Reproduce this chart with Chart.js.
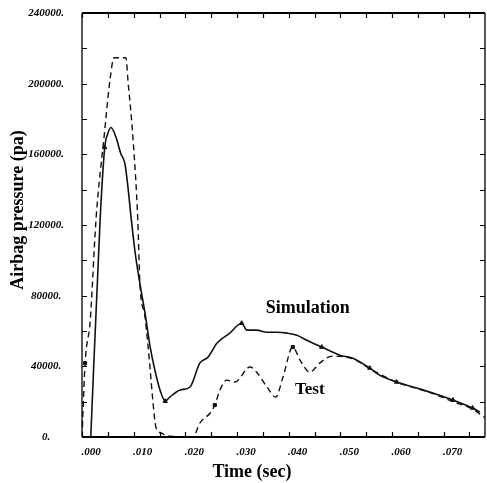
<!DOCTYPE html>
<html>
<head>
<meta charset="utf-8">
<script src="https://cdn.jsdelivr.net/npm/chart.js@4.4.1/dist/chart.umd.min.js"></script>
<style>
	html, body { margin: 0; padding: 0; background: #fff; }
	#wrap { width: 487px; height: 483px; }
</style>
</head>
<body>
<div id="wrap"><canvas id="airbag-chart" width="487" height="483"></canvas></div>
<script>
// values (time in s, pressure in Pa)
const simTime = [0.0017, 0.0035, 0.0044, 0.0050, 0.0056, 0.0066, 0.0075, 0.0083, 0.0089, 0.0095, 0.0103, 0.0112, 0.0122, 0.0132, 0.0141, 0.0151, 0.0161, 0.0170, 0.0190, 0.0209, 0.0228, 0.0244, 0.0261, 0.0286, 0.0309, 0.0319, 0.0338, 0.0358, 0.0377, 0.0397, 0.0416, 0.0435, 0.0464, 0.0499, 0.0524, 0.0557, 0.0576, 0.0609, 0.0648, 0.0679, 0.0718, 0.0756, 0.0770];
const simPressure = [0, 122600, 163900, 171800, 175200, 169500, 160500, 154800, 141300, 124300, 104000, 87000, 70100, 50900, 37900, 26600, 20300, 22600, 26600, 28300, 41800, 45200, 53100, 58800, 64400, 60500, 60500, 59300, 59300, 58800, 57600, 54800, 50900, 46300, 44600, 39000, 35000, 31100, 27700, 24900, 20900, 16400, 14100];
const simMarks = [2, 16, 24, 32, 35, 37, 40, 41];

const testTime = [0, 0.0006, 0.0016, 0.0027, 0.0044, 0.0054, 0.0062, 0.0085, 0.0089, 0.0099, 0.0108, 0.0112, 0.0122, 0.0132, 0.0137, 0.0143, 0.0153, 0.0170, 0.0215, 0.0228, 0.0248, 0.0257, 0.0267, 0.0280, 0.0296, 0.0325, 0.0338, 0.0358, 0.0375, 0.0389, 0.0408, 0.0422, 0.0441, 0.0460, 0.0484, 0.0524, 0.0557, 0.0609, 0.0648, 0.0679, 0.0718, 0.0756, 0.0781];
const testPressure = [0, 41800, 66100, 122600, 173500, 201700, 214700, 214700, 201700, 167800, 122600, 87000, 67800, 37900, 20900, 5650, 2300, 500, 0, 7900, 13600, 18100, 26600, 32200, 31100, 39600, 36700, 28300, 22600, 33900, 50900, 43500, 36700, 41800, 45800, 44300, 38700, 31000, 27500, 24600, 20000, 15800, 10700];
const testMarks = [1, 21, 30];

const xTitle = 'Time (sec)';
const yTitle = 'Airbag pressure (pa)';
const notes = [
	{ text: 'Simulation', t: 0.0437, p: 72900, size: 18 },
	{ text: 'Test', t: 0.0441, p: 26600, size: 17 },
];

const serif = '"Liberation Serif", "DejaVu Serif", serif';

function toPoints(xs, ys) {
	return xs.map((x, i) => ({ x: x, y: ys[i] }));
}

// box, inward ticks, titles and curve labels
const frame = {
	id: 'frame',
	afterDraw(chart) {
		const { ctx, chartArea: a, scales: { x, y } } = chart;
		ctx.save();
		ctx.strokeStyle = '#000';
		ctx.lineWidth = 2;
		ctx.beginPath();
		ctx.moveTo(a.left, a.bottom); ctx.lineTo(a.right, a.bottom);
		ctx.moveTo(a.left, a.top); ctx.lineTo(a.right, a.top);
		ctx.stroke();
		ctx.lineWidth = 1.3;
		ctx.beginPath();
		ctx.moveTo(a.left, a.top); ctx.lineTo(a.left, a.bottom);
		ctx.moveTo(a.right, a.top); ctx.lineTo(a.right, a.bottom);
		ctx.stroke();

		ctx.lineWidth = 1.2;
		ctx.beginPath();
		x.ticks.forEach(t => {
			const px = Math.round(x.getPixelForValue(t.value)) + 0.5;
			ctx.moveTo(px, a.bottom); ctx.lineTo(px, a.bottom - 5);
			ctx.moveTo(px, a.top); ctx.lineTo(px, a.top + 5);
		});
		y.ticks.forEach(t => {
			const py = Math.round(y.getPixelForValue(t.value)) + 0.5;
			ctx.moveTo(a.left, py); ctx.lineTo(a.left + 5, py);
			ctx.moveTo(a.right, py); ctx.lineTo(a.right - 5, py);
		});
		ctx.stroke();

		ctx.fillStyle = '#000';
		ctx.textAlign = 'center';
		ctx.textBaseline = 'middle';
		ctx.font = 'bold 18px ' + serif;
		ctx.fillText(xTitle, 252, 472);
		ctx.save();
		ctx.translate(18, 210);
		ctx.rotate(-Math.PI / 2);
		ctx.fillText(yTitle, 0, 0);
		ctx.restore();

		notes.forEach(n => {
			ctx.font = 'bold ' + n.size + 'px ' + serif;
			ctx.fillText(n.text, x.getPixelForValue(n.t), y.getPixelForValue(n.p));
		});
		ctx.restore();
	},
};

const ctx = document.getElementById('airbag-chart').getContext('2d');

new Chart(ctx, {
	type: 'line',
	data: {
		datasets: [
			{
				label: 'Simulation',
				data: toPoints(simTime, simPressure),
				borderColor: '#111',
				borderWidth: 1.6,
				cubicInterpolationMode: 'monotone',
				pointStyle: 'triangle',
				pointRadius: c => (simMarks.includes(c.dataIndex) ? 2.5 : 0),
				pointBackgroundColor: '#111',
				pointBorderColor: '#111',
				pointBorderWidth: 1,
			},
			{
				label: 'Test',
				data: toPoints(testTime, testPressure),
				borderColor: '#111',
				borderWidth: 1.4,
				borderDash: [6, 4],
				cubicInterpolationMode: 'monotone',
				pointStyle: 'rect',
				pointRadius: c => (testMarks.includes(c.dataIndex) ? 2.2 : 0),
				pointBackgroundColor: '#111',
				pointBorderColor: '#111',
				pointBorderWidth: 1,
			},
		],
	},
	options: {
		responsive: false,
		animation: false,
		layout: { padding: { top: 13, right: 2, left: 0, bottom: 0 } },
		plugins: {
			legend: { display: false },
			tooltip: { enabled: false },
		},
		scales: {
			x: {
				type: 'linear',
				min: 0,
				max: 0.078,
				grid: { display: false, drawTicks: false },
				border: { display: false },
				afterFit: s => { s.height = 46; s.paddingLeft = 0; s.paddingRight = 0; },
				ticks: {
					stepSize: 0.005,
					includeBounds: false,
					autoSkip: false,
					maxRotation: 0,
					padding: 9,
					labelOffset: 9,
					color: '#000',
					font: { family: serif, size: 11, weight: 'bold', style: 'italic' },
					callback: v => (Math.round(v * 1000) % 10 === 0 ? v.toFixed(3).replace(/^0/, '') : ''),
				},
			},
			y: {
				min: 0,
				max: 240000,
				grid: { display: false, drawTicks: false },
				border: { display: false },
				afterFit: s => { s.width = 82; s.paddingTop = 0; s.paddingBottom = 0; },
				ticks: {
					stepSize: 20000,
					autoSkip: false,
					padding: 18,
					crossAlign: 'center',
					color: '#000',
					font: { family: serif, size: 11, weight: 'bold', style: 'italic' },
					callback: v => (v % 40000 === 0 ? v + '.' : ''),
				},
			},
		},
	},
	plugins: [frame],
});
</script>
</body>
</html>
